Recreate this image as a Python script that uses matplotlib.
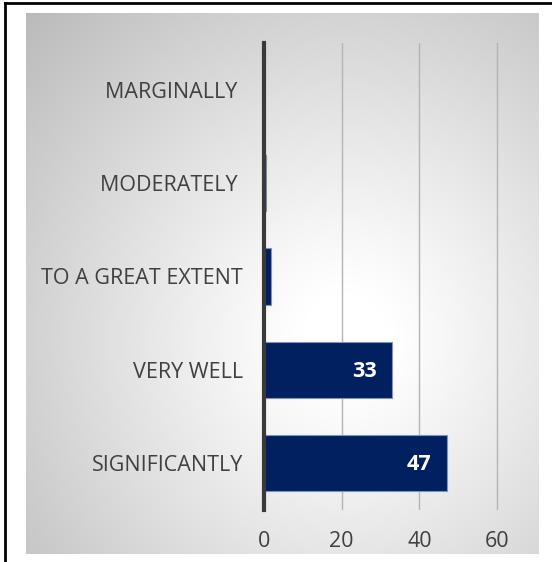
import numpy as np
import matplotlib
matplotlib.use('Agg')
import matplotlib.pyplot as plt
from matplotlib.lines import Line2D

# data, top to bottom
categories = ['MARGINALLY ', 'MODERATELY ', 'TO A GREAT EXTENT', 'VERY WELL', 'SIGNIFICANTLY']
values = [0, 0.6, 1.7, 33, 47]
shown_labels = ['', '', '', '33', '47']
xticks = [0, 20, 40, 60]

plt.rcParams['font.family'] = ['Open Sans', 'DejaVu Sans']
text_col = '#404040'

W, H = 552, 562
fig = plt.figure(figsize=(W / 100, H / 100), dpi=100)
fig.patch.set_facecolor('white')

# radial gradient chart area
bg = fig.add_axes([26 / W, 1 - 554 / H, 513 / W, 541 / H])
ny, nx = 300, 300
yy, xx = np.mgrid[0:ny, 0:nx]
cx, cy = 0.62 * nx, 0.6 * ny
r = np.sqrt((xx - cx) ** 2 + (yy - cy) ** 2)
r = r / r.max()
g = 1 - 0.27 * np.clip((r - 0.1) / 0.9, 0, 1) ** 1.1
img = np.dstack([g, g, g])
bg.imshow(img, aspect='auto', extent=[0, 1, 0, 1], origin='upper')
bg.set_axis_off()

# bars (x range padded a bit so the 60 gridline is not clipped)
xmax = 60.5
ax = fig.add_axes([264 / W, 1 - 510 / H, 233 * xmax / 60 / W, 467 / H])
ax.set_facecolor('none')
ypos = np.arange(len(categories))
bars = ax.barh(ypos, values, height=0.6, color='#002060',
               edgecolor='#7f93bd', linewidth=0.8, zorder=3)
for b, lab in zip(bars, shown_labels):
    if lab:
        ax.annotate(lab, (b.get_width(), b.get_y() + b.get_height() / 2),
                    xytext=(-11, -1), textcoords='offset points',
                    ha='right', va='center', color='white',
                    fontsize=15.5, fontweight='bold', zorder=4)

ax.set_xlim(0, xmax)
ax.set_ylim(len(categories) - 0.5, -0.5)
ax.set_xticks(xticks)
ax.set_yticks(ypos)
ax.set_yticklabels(categories)
ax.tick_params(axis='both', length=0, pad=15, labelsize=15.5, labelcolor=text_col)
ax.xaxis.grid(True, color='#b4b4b4', linewidth=1, zorder=0)
ax.set_axisbelow(True)
for s in ['top', 'right', 'bottom']:
    ax.spines[s].set_visible(False)
ax.spines['left'].set_color('#3a3a3a')
ax.spines['left'].set_linewidth(3)
ax.spines['left'].set_zorder(5)

# outer frame (left and top edge visible)
fig.add_artist(Line2D([5.5 / W, 5.5 / W], [0, 1 - 3 / H], transform=fig.transFigure,
                      color='black', linewidth=2))
fig.add_artist(Line2D([5.5 / W, 1], [1 - 3 / H, 1 - 3 / H], transform=fig.transFigure,
                      color='black', linewidth=2))

fig.savefig('out.png', dpi=100)
